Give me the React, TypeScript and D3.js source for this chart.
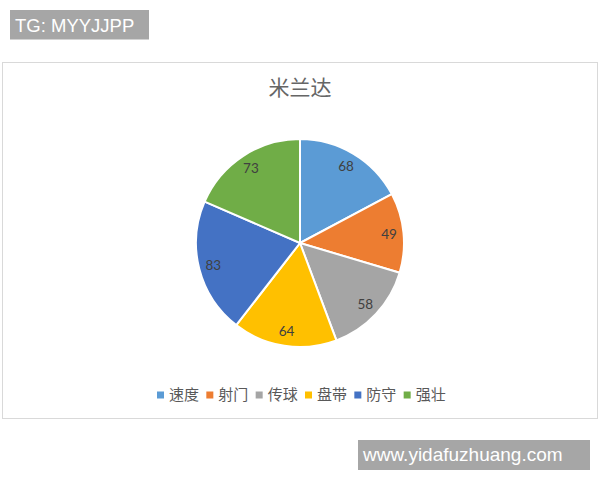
import { useMemo } from "react";
import * as d3 from "d3";

/* ---------- data ---------- */

const title = "米兰达";
const categories = ["速度", "射门", "传球", "盘带", "防守", "强壮"];
const values = [68, 49, 58, 64, 83, 73];
const colors = ["#5B9BD5", "#ED7D31", "#A5A5A5", "#FFC000", "#4472C4", "#70AD47"];
const topTag = "TG: MYYJJPP";
const bottomTag = "www.yidafuzhuang.com";

/* ---------- layout ---------- */

const W = 600;
const H = 480;
const cx = 300;
const cy = 243;
const radius = 104;
const CJK = "'Noto Sans CJK SC', 'Noto Sans', sans-serif";
const LATIN = "'Liberation Sans', Arial, sans-serif";

export default function App() {
  const arcs = useMemo(
    () =>
      d3
        .pie<number>()
        .sort(null)
        .value((d) => d)(values),
    [],
  );

  const arcGen = d3.arc<d3.PieArcDatum<number>>().innerRadius(0).outerRadius(radius);
  const labelArc = d3
    .arc<d3.PieArcDatum<number>>()
    .innerRadius(radius * 0.86)
    .outerRadius(radius * 0.86);

  // legend positions via a band scale
  const legendX = d3
    .scaleBand<string>()
    .domain(categories)
    .range([157, 453])
    .paddingInner(0);

  return (
    <div style={{ position: "absolute", left: 0, top: 0, width: W, height: H, background: "#fff" }}>
      <svg width={W} height={H} style={{ display: "block" }}>
        <rect x={0} y={0} width={W} height={H} fill="#fff" />

        {/* top tag */}
        <rect x={10} y={10} width={139} height={29.5} fill="#a6a6a6" />
        <text x={15} y={32} fontFamily={LATIN} fontSize={18.5} fill="#fff">
          {topTag}
        </text>

        {/* chart frame */}
        <rect x={2.5} y={62.5} width={595} height={356} fill="#fff" stroke="#d9d9d9" strokeWidth={1} />

        {/* title */}
        <text
          x={cx}
          y={95}
          textAnchor="middle"
          fontFamily={CJK}
          fontSize={21}
          fill="#666"
        >
          {title}
        </text>

        {/* pie */}
        <g transform={`translate(${cx},${cy})`}>
          {arcs.map((a, i) => (
            <path key={i} d={arcGen(a) ?? ""} fill={colors[i]} stroke="#fff" strokeWidth={2} />
          ))}
          {arcs.map((a, i) => {
            const [lx, ly] = labelArc.centroid(a);
            return (
              <text
                key={`l${i}`}
                x={lx}
                y={ly}
                dy="0.35em"
                textAnchor="middle"
                fontFamily="Lato, 'Open Sans', sans-serif"
                fontSize={13.5}
                fill="#404040"
              >
                {values[i]}
              </text>
            );
          })}
        </g>

        {/* legend */}
        <g>
          {categories.map((c, i) => {
            const x = legendX(c) ?? 0;
            return (
              <g key={c} transform={`translate(${x},395)`}>
                <rect x={0} y={-3.5} width={7} height={7} fill={colors[i]} />
                <text x={12} y={0} dy="0.36em" fontFamily={CJK} fontSize={15} fill="#595959">
                  {c}
                </text>
              </g>
            );
          })}
        </g>

        {/* bottom tag */}
        <rect x={358} y={440} width={232} height={30} fill="#a6a6a6" />
        <text x={363} y={461} fontFamily={LATIN} fontSize={19} fill="#fff">
          {bottomTag}
        </text>
      </svg>
    </div>
  );
}
